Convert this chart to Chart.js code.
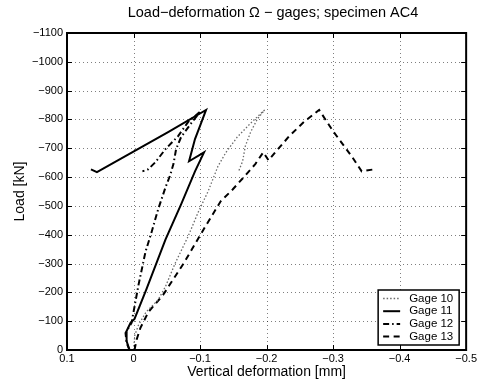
<!DOCTYPE html>
<html>
<head>
<meta charset="utf-8">
<script src="https://cdn.jsdelivr.net/npm/chart.js@4/dist/chart.umd.min.js"></script>
<style>
  html, body { margin: 0; padding: 0; background: #fff; }
  #wrap { width: 479px; height: 385px; }
</style>
</head>
<body>
<div id="wrap"><canvas id="c" width="479" height="385"></canvas></div>
<script>
// Vertical deformation [mm] and load [kN] per gage (loading, then unloading)
const gage10Def  = [0, -0.002, -0.0075, -0.019, -0.037, -0.048, -0.063, -0.082, -0.097, -0.112, -0.127, -0.139, -0.156, -0.176, -0.197, -0.186, -0.176, -0.168, -0.164, -0.158];
const gage10Load = [0, -52, -87, -132, -174, -220, -303, -394, -477, -550, -638, -686, -739, -787, -833, -801, -756, -707, -655, -620];

const gage11Def  = [0.006, 0.0104, 0.0104, 0.0045, -0.0015, -0.019, -0.048, -0.0715, -0.0924, -0.106, -0.0835, -0.0924, -0.101, -0.109, -0.052, 0.055, 0.064];
const gage11Load = [0, -31, -66, -94, -108, -209, -383, -505, -620, -686, -655, -732, -784, -833, -756, -617, -627];

const gage12Def  = [0.006, 0.0104, 0.012, 0.003, -0.0075, -0.018, -0.027, -0.037, -0.048, -0.055, -0.06, -0.064, -0.0715, -0.089, -0.101, -0.082, -0.067, -0.048, -0.033, -0.022, -0.0134];
const gage12Load = [0, -24, -59, -94, -226, -341, -408, -488, -564, -606, -645, -697, -739, -794, -829, -791, -742, -697, -652, -627, -620];

const gage13Def  = [-0.0015, -0.0045, -0.0104, -0.0224, -0.0447, -0.076, -0.107, -0.131, -0.149, -0.167, -0.183, -0.195, -0.203, -0.212, -0.234, -0.256, -0.279, -0.301, -0.328, -0.343, -0.362];
const gage13Load = [0, -35, -77, -132, -192, -303, -425, -516, -557, -603, -645, -686, -658, -683, -742, -791, -833, -756, -672, -620, -627];

const seriesNames = ['Gage 10', 'Gage 11', 'Gage 12', 'Gage 13'];

const xTicks = [0.1, 0, -0.1, -0.2, -0.3, -0.4, -0.5];
const yTicks = [-1100, -1000, -900, -800, -700, -600, -500, -400, -300, -200, -100, 0];

const FONT = '"Liberation Sans", Arial, Helvetica, sans-serif';

function pairs(xs, ys) {
  return xs.map((x, i) => ({ x: x, y: ys[i] }));
}

function fmt(v) {
  const r = Math.round(v * 10) / 10;
  if (r === 0) return '0';
  return r < 0 ? '\u2212' + String(Math.abs(r)) : String(r);
}
function fmtInt(v) {
  const r = Math.round(v);
  if (r === 0) return '0';
  return r < 0 ? '\u2212' + String(Math.abs(r)) : String(r);
}

const lineStyles = [
  { borderColor: '#6a6a6a', borderWidth: 1.3, borderDash: [1.5, 2] },
  { borderColor: '#000', borderWidth: 2, borderDash: [] },
  { borderColor: '#000', borderWidth: 2, borderDash: [6, 3, 1.5, 3] },
  { borderColor: '#000', borderWidth: 2, borderDash: [6, 4.5] }
];

const series = [
  pairs(gage10Def, gage10Load),
  pairs(gage11Def, gage11Load),
  pairs(gage12Def, gage12Load),
  pairs(gage13Def, gage13Load)
];

// Dotted grid at every tick, drawn beneath the curves and clipped to the axes
const dottedGrid = {
  id: 'dottedGrid',
  beforeDatasetsDraw(chart) {
    const { ctx, chartArea: a, scales } = chart;
    ctx.save();
    ctx.beginPath();
    ctx.rect(a.left, a.top, a.right - a.left, a.bottom - a.top);
    ctx.clip();
    ctx.strokeStyle = 'rgba(0,0,0,0.5)';
    ctx.lineWidth = 1;
    ctx.setLineDash([1, 3]);
    ctx.beginPath();
    xTicks.forEach(v => {
      const px = Math.round(scales.x.getPixelForValue(v)) + 0.5;
      ctx.moveTo(px, a.bottom);
      ctx.lineTo(px, a.top);
    });
    yTicks.forEach(v => {
      const py = Math.round(scales.y.getPixelForValue(v)) + 0.5;
      ctx.moveTo(a.left, py);
      ctx.lineTo(a.right, py);
    });
    ctx.stroke();
    ctx.restore();
  }
};

// Title, frame, inward ticks on all four sides, legend box
const matlabAxes = {
  id: 'matlabAxes',
  afterDraw(chart) {
    const { ctx, chartArea: a, scales } = chart;
    ctx.save();

    // title
    ctx.fillStyle = '#000';
    ctx.font = '14.5px ' + FONT;
    ctx.textAlign = 'center';
    ctx.textBaseline = 'middle';
    ctx.fillText('Load\u2212deformation \u03A9 \u2212 gages; specimen AC4', 273, 13);

    // frame
    ctx.strokeStyle = '#000';
    ctx.lineWidth = 2;
    ctx.setLineDash([]);
    ctx.strokeRect(a.left, a.top, a.right - a.left, a.bottom - a.top);

    // inward ticks
    ctx.lineWidth = 1;
    const tl = 5;
    ctx.beginPath();
    xTicks.forEach(v => {
      const px = Math.round(scales.x.getPixelForValue(v)) + 0.5;
      ctx.moveTo(px, a.bottom); ctx.lineTo(px, a.bottom - tl);
      ctx.moveTo(px, a.top); ctx.lineTo(px, a.top + tl);
    });
    yTicks.forEach(v => {
      const py = Math.round(scales.y.getPixelForValue(v)) + 0.5;
      ctx.moveTo(a.left, py); ctx.lineTo(a.left + tl, py);
      ctx.moveTo(a.right, py); ctx.lineTo(a.right - tl, py);
    });
    ctx.stroke();

    // legend
    const bw = 81, bh = 55;
    const bx = a.right - 7 - bw, by = a.bottom - 5 - bh;
    ctx.fillStyle = '#fff';
    ctx.fillRect(bx, by, bw, bh);
    ctx.lineWidth = 1.5;
    ctx.strokeStyle = '#000';
    ctx.strokeRect(bx, by, bw, bh);
    ctx.font = '11.5px ' + FONT;
    ctx.textAlign = 'left';
    ctx.textBaseline = 'middle';
    seriesNames.forEach((name, i) => {
      const y = by + 8.5 + i * 12.7;
      const st = lineStyles[i];
      ctx.strokeStyle = st.borderColor;
      ctx.lineWidth = st.borderWidth;
      ctx.setLineDash(st.borderDash);
      ctx.beginPath();
      ctx.moveTo(bx + 5, y); ctx.lineTo(bx + 22, y);
      ctx.stroke();
      ctx.setLineDash([]);
      ctx.fillStyle = '#000';
      ctx.fillText(name, bx + 31, y);
    });
    ctx.restore();
  }
};

new Chart(document.getElementById('c'), {
  type: 'scatter',
  data: {
    datasets: series.map((pts, i) => Object.assign({
      label: seriesNames[i],
      data: pts,
      showLine: true,
      fill: false,
      tension: 0,
      pointRadius: 0,
      pointHoverRadius: 0
    }, lineStyles[i]))
  },
  options: {
    responsive: false,
    animation: false,
    devicePixelRatio: 1,
    layout: { padding: { top: 33, right: 9, left: 0, bottom: 0 } },
    plugins: { legend: { display: false }, tooltip: { enabled: false }, title: { display: false } },
    scales: {
      x: {
        type: 'linear',
        reverse: true,
        min: -0.5,
        max: 0.1,
        afterBuildTicks: s => { s.ticks = xTicks.map(v => ({ value: v })); },
        afterFit: s => { s.height = 35; },
        ticks: {
          callback: v => fmt(v),
          color: '#000',
          font: { family: FONT, size: 11 },
          padding: 2,
          maxRotation: 0,
          autoSkip: false
        },
        grid: { display: false, drawTicks: false },
        border: { display: false },
        title: {
          display: true,
          text: 'Vertical deformation [mm]',
          color: '#000',
          font: { family: FONT, size: 14 },
          padding: { top: 0, bottom: 4 }
        }
      },
      y: {
        type: 'linear',
        reverse: true,
        min: -1100,
        max: 0,
        afterBuildTicks: s => { s.ticks = yTicks.map(v => ({ value: v })); },
        afterFit: s => { s.width = 67; },
        ticks: {
          callback: v => fmtInt(v),
          color: '#000',
          font: { family: FONT, size: 11 },
          padding: 4,
          autoSkip: false
        },
        grid: { display: false, drawTicks: false },
        border: { display: false },
        title: {
          display: true,
          text: 'Load [kN]',
          color: '#000',
          font: { family: FONT, size: 14 },
          padding: { top: 12, bottom: 0 }
        }
      }
    }
  },
  plugins: [dottedGrid, matlabAxes]
});
</script>
</body>
</html>
